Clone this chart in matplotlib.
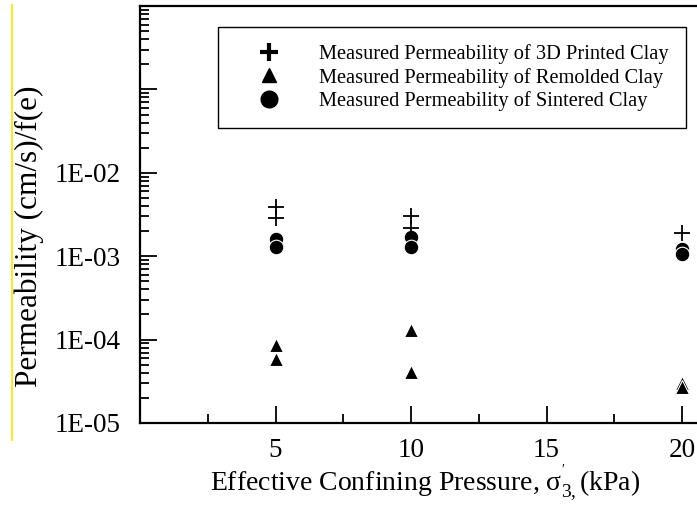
import matplotlib
matplotlib.use("Agg")
import matplotlib.pyplot as plt
from matplotlib.lines import Line2D
from matplotlib.ticker import FixedLocator, LogLocator, NullFormatter, FixedFormatter, MultipleLocator

plt.rcParams['font.family'] = ['Liberation Serif', 'DejaVu Serif']
plt.rcParams['mathtext.fontset'] = 'custom'
plt.rcParams['mathtext.rm'] = 'Liberation Serif'
plt.rcParams['mathtext.it'] = 'Liberation Serif:italic'

# Data
x_printed = [5, 5, 10, 10, 20]
k_printed = [3.9e-3, 2.9e-3, 3.0e-3, 2.2e-3, 1.9e-3]
x_remolded = [5, 5, 10, 10, 20, 20]
k_remolded = [8.7e-5, 5.8e-5, 1.29e-4, 4.1e-5, 3.0e-5, 2.67e-5]
x_sintered = [5, 5, 10, 10, 20, 20]
k_sintered = [1.6e-3, 1.3e-3, 1.68e-3, 1.28e-3, 1.22e-3, 1.06e-3]

ytick_vals = [1e-5, 1e-4, 1e-3, 1e-2]
ytick_labels = ["1E-05", "1E-04", "1E-03", "1E-02"]
xtick_vals = [5, 10, 15, 20]
labels = ["Measured Permeability of 3D Printed Clay",
          "Measured Permeability of Remolded Clay",
          "Measured Permeability of Sintered Clay"]

fig = plt.figure(figsize=(6.97, 5.07), dpi=100)
ax = fig.add_axes([140/697, 1-423/507, 1-140/697, (423-6)/507])

ax.plot(x_sintered, k_sintered, linestyle='none', marker='o', markersize=10.5,
        markerfacecolor='black', markeredgecolor='white', markeredgewidth=0.8, zorder=3)
ax.plot(x_remolded, k_remolded, linestyle='none', marker='^', markersize=10.5,
        markerfacecolor='black', markeredgecolor='white', markeredgewidth=0.8, zorder=3)
ax.plot(x_printed, k_printed, linestyle='none', marker='+', markersize=12,
        color='black', markeredgewidth=1.3, zorder=4)

ax.set_yscale('log')
ax.set_ylim(1e-5, 1e0)
ax.set_xlim(0, 20.55)

ax.yaxis.set_major_locator(FixedLocator([1e-5, 1e-4, 1e-3, 1e-2, 1e-1, 1e0]))
ax.yaxis.set_major_formatter(FixedFormatter(ytick_labels + ["", ""]))
ax.yaxis.set_minor_locator(LogLocator(base=10, subs=range(2, 10), numticks=20))
ax.yaxis.set_minor_formatter(NullFormatter())
ax.xaxis.set_major_locator(FixedLocator(xtick_vals))
ax.xaxis.set_minor_locator(MultipleLocator(2.5))

ax.tick_params(which='major', direction='in', length=12, width=1.3, labelsize=19.5, pad=14)
ax.tick_params(axis='x', which='major', pad=10.5)
ax.tick_params(which='minor', direction='in', length=6.5, width=1.3)
ax.tick_params(axis='y', which='both', right=False)
ax.tick_params(axis='x', which='both', top=False)

for s in ['left', 'bottom', 'top']:
    ax.spines[s].set_linewidth(1.6)
ax.spines['right'].set_visible(False)

ax.set_xlabel(r"Effective Confining Pressure, $\mathrm{\sigma}^{'}_{3,}$(kPa)", fontsize=20)
ax.xaxis.set_label_coords((425.5 - 140) / 557, -0.095)
ax.set_ylabel("Permeability (cm/s)/f(e)", fontsize=22.5)
ax.yaxis.set_label_coords((44 - 140) / 557, (423 - 236) / 417)

handles = [
    Line2D([], [], linestyle='none', marker='+', markersize=13, markeredgewidth=3, color='black'),
    Line2D([], [], linestyle='none', marker='^', markersize=10, color='black'),
    Line2D([], [], linestyle='none', marker='o', markersize=12, color='black'),
]
leg = ax.legend(handles, labels, loc='upper left', bbox_to_anchor=(218/697, 1-27/507),
                bbox_transform=fig.transFigure, fontsize=14.7, frameon=True, fancybox=False,
                edgecolor='black', handletextpad=0.8, borderpad=0.85, labelspacing=0.17,
                borderaxespad=0, handlelength=3.3)
leg.get_frame().set_linewidth(1.0)
leg.get_frame().set_alpha(1)

fig.add_artist(Line2D([11.5/697, 11.5/697], [1-5/507, 1-440/507], color='#f5e800', linewidth=1.2,
                      transform=fig.transFigure))

fig.savefig("out.png", dpi=100)
